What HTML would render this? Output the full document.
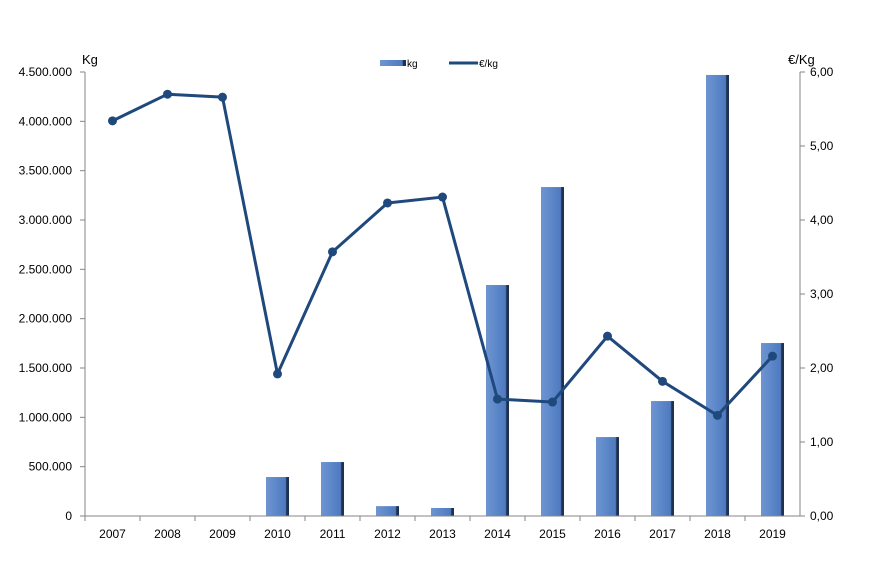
<!DOCTYPE html>
<html><head><meta charset="utf-8"><style>
body{margin:0;background:#fff;}
svg text{font-family:"Liberation Sans",sans-serif;fill:#000;}
</style></head><body>
<svg id="chart" width="879" height="582" xmlns="http://www.w3.org/2000/svg">
<defs>
<linearGradient id="bg" x1="0" x2="1" y1="0" y2="0">
<stop offset="0" stop-color="#6f95d0"/><stop offset="0.5" stop-color="#5a86c8"/><stop offset="0.85" stop-color="#4f7bbf"/><stop offset="0.9" stop-color="#1f3050"/><stop offset="1" stop-color="#1f3050"/>
</linearGradient>
</defs>
<g id="grid"></g>
<g id="bars"></g>
<g id="line"></g>
<g id="axes"></g>
<text x="82" y="64" font-size="13">Kg</text>
<text x="788" y="64" font-size="13">€/Kg</text>
<g>
<rect x="380" y="60" width="26" height="6" fill="url(#bg)"/>
<text x="407" y="67" font-size="10">kg</text>
<line x1="449" y1="63" x2="478" y2="63" stroke="#1f497d" stroke-width="3"/>
<text x="479" y="67" font-size="10">€/kg</text>
</g>
</svg>
<script>
const years=['2007','2008','2009','2010','2011','2012','2013','2014','2015','2016','2017','2018','2019'];
const kg=[5000,5000,5000,395000,547000,100000,81000,2341000,3334000,800000,1165000,4470000,1753000];
const price=[5.34,5.70,5.66,1.92,3.57,4.23,4.31,1.58,1.54,2.43,1.82,1.36,2.16];
const leftTicks=['0','500.000','1.000.000','1.500.000','2.000.000','2.500.000','3.000.000','3.500.000','4.000.000','4.500.000'];
const rightTicks=['0,00','1,00','2,00','3,00','4,00','5,00','6,00'];
const X0=85,X1=800,Y0=516,Y1=72;
const ns='http://www.w3.org/2000/svg';
const cw=(X1-X0)/years.length;
const xc=i=>X0+cw*(i+0.5);
const yL=v=>Y0-(Y0-Y1)*v/4500000;
const yR=v=>Y0-(Y0-Y1)*v/6;
function mk(tag,attrs,parent){const e=document.createElementNS(ns,tag);for(const k in attrs)e.setAttribute(k,attrs[k]);document.getElementById(parent).appendChild(e);return e;}
kg.forEach((v,i)=>{const y=yL(v);const r=mk('rect',{x:xc(i)-11.5,y:y,width:23,height:Math.max(Y0-y,1),fill:'url(#bg)'},'bars');

});
const pts=price.map((v,i)=>xc(i)+','+yR(v)).join(' ');
const pl=mk('polyline',{points:pts,fill:'none',stroke:'#1f497d','stroke-width':3,'stroke-linejoin':'round'},'line');


price.forEach((v,i)=>{const c=mk('circle',{cx:xc(i),cy:yR(v),r:4.5,fill:'#1f497d'},'line');

});
const ax=[[X0,Y1,X0,Y0],[X1,Y1,X1,Y0],[X0,Y0,X1,Y0]];
ax.forEach(a=>{const l=mk('line',{x1:a[0],y1:a[1],x2:a[2],y2:a[3],stroke:'#868686','stroke-width':1},'axes');

});
leftTicks.forEach((t,i)=>{const y=Y0-(Y0-Y1)*i/(leftTicks.length-1);
mk('line',{x1:X0-5,y1:y,x2:X0,y2:y,stroke:'#868686'},'axes');
const tx=mk('text',{x:X0-13,y:y+4,'font-size':12,'text-anchor':'end'},'axes');tx.textContent=t;

});
rightTicks.forEach((t,i)=>{const y=Y0-(Y0-Y1)*i/(rightTicks.length-1);
mk('line',{x1:X1,y1:y,x2:X1+5,y2:y,stroke:'#868686'},'axes');
const tx=mk('text',{x:X1+10,y:y+4,'font-size':12},'axes');tx.textContent=t;

});
years.forEach((t,i)=>{mk('line',{x1:X0+cw*i,y1:Y0,x2:X0+cw*i,y2:Y0+5,stroke:'#868686'},'axes');
const tx=mk('text',{x:xc(i),y:Y0+22,'font-size':12,'text-anchor':'middle'},'axes');tx.textContent=t;

});
</script>
</body></html>
